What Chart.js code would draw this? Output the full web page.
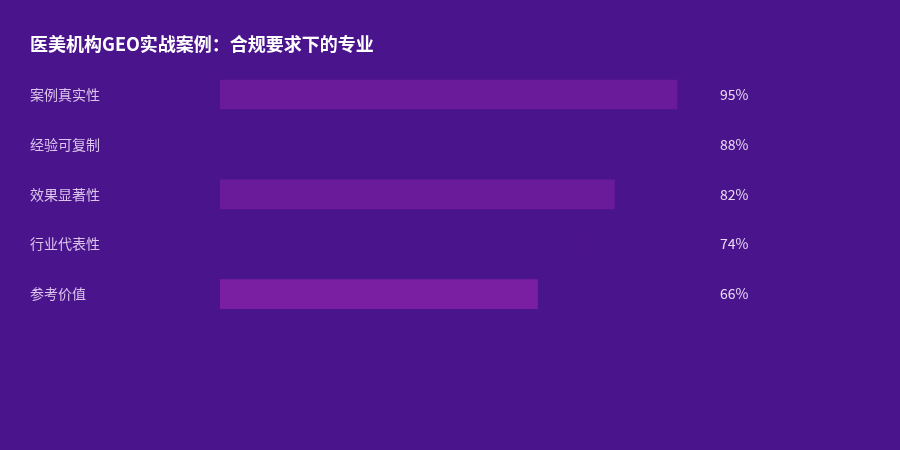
<!DOCTYPE html>
<html>
<head>
<meta charset="utf-8">
<script src="https://cdn.jsdelivr.net/npm/chart.js@4"></script>
<style>
  html, body { margin: 0; padding: 0; background: #4a148c; }
  #wrap { width: 900px; height: 450px; }
</style>
</head>
<body>
<div id="wrap"><canvas id="geoChart"></canvas></div>
<script>
const categories = ['案例真实性', '经验可复制', '效果显著性', '行业代表性', '参考价值'];
const scores = [95, 88, 82, 74, 66];
const barColors = ['#6a1b9a', '#4a148c', '#6a1b9a', '#4a148c', '#7b1fa2'];

const fontFamily = '"Noto Sans CJK SC", "Noto Sans", sans-serif';

// draws the "95%" style labels to the right of the plot area
const valueLabels = {
    id: 'valueLabels',
    afterDatasetsDraw(chart) {
        const { ctx, chartArea, scales } = chart;
        ctx.save();
        ctx.font = '14px ' + fontFamily;
        ctx.fillStyle = '#ead9f2';
        ctx.textAlign = 'left';
        ctx.textBaseline = 'middle';
        scores.forEach((v, i) => {
            ctx.fillText(v + '%', chartArea.right + 19, scales.y.getPixelForValue(i));
        });
        ctx.restore();
    }
};

const ctx = document.getElementById('geoChart').getContext('2d');
new Chart(ctx, {
    type: 'bar',
    data: {
        labels: categories,
        datasets: [{
            data: scores,
            backgroundColor: barColors,
            borderWidth: 0,
            barThickness: 29
        }]
    },
    options: {
        indexAxis: 'y',
        responsive: true,
        maintainAspectRatio: false,
        animation: false,
        layout: { padding: { left: 30, right: 199, top: 0, bottom: 131 } },
        scales: {
            x: {
                display: false,
                min: 0,
                max: 100
            },
            y: {
                grid: { display: false },
                border: { display: false },
                afterFit(scale) { scale.width = 190; }, // bars start at x=220
                ticks: {
                    crossAlign: 'far',
                    color: '#dcc4ec',
                    font: { family: fontFamily, size: 14 }
                }
            }
        },
        plugins: {
            legend: { display: false },
            tooltip: { enabled: false },
            title: {
                display: true,
                text: '医美机构GEO实战案例：合规要求下的专业',
                align: 'start',
                color: '#ffffff',
                font: { family: fontFamily, size: 18, weight: 'bold' },
                padding: { top: 33, bottom: 15 }
            }
        }
    },
    plugins: [valueLabels]
});
</script>
</body>
</html>
